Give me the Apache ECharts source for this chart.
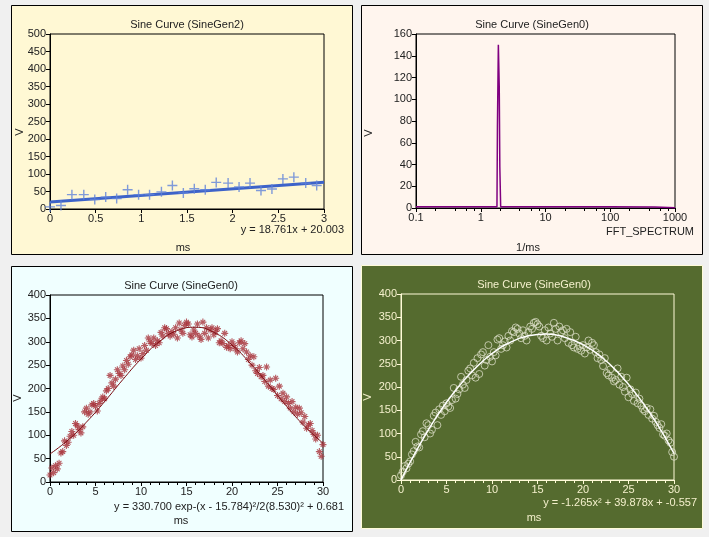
<!DOCTYPE html>
<html><head><meta charset="utf-8">
<script src="https://cdn.jsdelivr.net/npm/echarts@6/dist/echarts.min.js"></script>
<style>html,body{margin:0;padding:0;background:#f0f0f0}#c{width:709px;height:537px}</style>
</head><body><div id="c"></div>
<script>
// ---- Panel 1: linear fit (SineGen2) ----
const linX = [0,0.12,0.24,0.37,0.49,0.61,0.73,0.85,0.97,1.09,1.22,1.34,1.46,1.58,1.70,1.82,1.95,2.07,2.19,2.31,2.43,2.55,2.67,2.80,2.92];
const linY = [6,10,41,41,27,34,30,55,41,41,49,67,46,58,55,76,74,63,74,53,57,86,91,74,67];
const linFitX = [0,3];
const linFitY = [20.0,76.3];
const p1XTicks = [0,0.5,1,1.5,2,2.5,3];
const p1YTicks = [0,50,100,150,200,250,300,350,400,450,500];

// ---- Panel 2: FFT spectrum (SineGen0) ----
const fftX = [0.1,1,1.78,1.81,1.87,1.93,1.97,2.03,10,100,490,500,1000];
const fftY = [1.2,1.2,1.2,75,150,112,38,1.2,1.2,1.1,1.0,0.3,0.3];
const p2XTicks = [0.1,1,10,100,1000];
const p2XMinor = [0.2,0.4,0.6,0.8,2,4,6,8,20,40,60,80,200,400,600,800];
const p2YTicks = [0,20,40,60,80,100,120,140,160];

// ---- Panel 3: gaussian fit (SineGen0), samples every 0.2 ms ----
const sampleStep = 0.2;
const gaussY = [
 15,30,20,35,28,40,62,65,88,78,
 85,98,108,100,125,120,112,105,118,150,
 158,145,150,165,168,162,152,168,175,182,
 178,195,200,228,212,205,220,240,232,228,
 248,240,260,252,268,272,282,262,270,285,
 265,275,292,282,308,300,296,308,292,302,
 298,320,312,330,328,318,312,322,316,330,
 308,340,325,318,335,342,338,315,310,325,
 318,338,312,305,342,318,330,308,325,330,
 315,322,328,298,302,296,318,288,292,285,
 300,292,285,278,298,302,285,296,278,262,
 270,250,268,238,232,245,225,228,215,246,
 205,218,200,198,222,185,205,178,190,172,
 182,168,158,172,150,160,145,158,148,128,
 140,115,122,125,110,102,92,100,65,55,
 80];
const fitX = [0,2,4,6,8,10,12,14,16,18,20,22,24,26,28,30];
const gaussFitY = [60,90,128,172,219,263,300,324,331,320,293,254,209,162,119,83];

// ---- Panel 4: quadratic fit (SineGen0) ----
const quadY = [
 10,18,30,25,35,40,55,62,82,72,
 70,98,105,92,122,118,100,108,138,145,
 118,152,140,160,148,165,158,155,172,198,
 175,185,195,222,205,198,215,235,240,225,
 252,220,262,228,270,275,246,258,290,265,
 255,275,268,302,305,282,290,298,285,310,
 300,320,318,328,325,315,305,322,310,300,
 318,330,325,338,340,335,330,310,305,322,
 300,328,315,308,338,325,300,330,318,322,
 305,325,295,318,290,285,308,282,288,278,
 290,272,285,300,280,295,290,275,262,270,
 258,245,262,230,225,238,220,212,215,240,
 205,222,200,190,220,178,195,185,170,188,
 165,175,160,152,148,155,140,152,132,138,
 125,118,112,120,98,95,100,85,80,60,
 50];
const quadFitY = [0,74,139,193,237,272,296,310,314,307,291,265,228,181,125,57];
const p34XTicks = [0,5,10,15,20,25,30];
const p34YTicks = [0,50,100,150,200,250,300,350,400];

// ---------------------------------------------------------
const FONT = '"Liberation Sans", Arial, sans-serif';
const DARK = '#222';
const CREAM = '#f4f0cc';
const pair = (xs, ys) => xs.map((x, i) => [x, ys[i]]);
const stepped = ys => ys.map((y, i) => [+(i * sampleStep).toFixed(2), y]);

function valAxis(gi, ticks, col, txt, extra) {
  return Object.assign({
    type: 'value', gridIndex: gi, min: ticks[0], max: ticks[ticks.length - 1],
    interval: ticks[1] - ticks[0],
    axisLine: { show: true, onZero: false, lineStyle: { color: col, width: 1 } },
    axisTick: { show: true, length: 4, lineStyle: { color: col } },
    axisLabel: { color: txt, fontSize: 11, fontFamily: FONT, margin: 4 },
    splitLine: { show: false }
  }, extra || {});
}
function minorAxis(gi, ticks, col, extra) {
  return Object.assign({
    type: 'value', gridIndex: gi, min: ticks[0], max: ticks[ticks.length - 1], interval: 1,
    axisLine: { show: false }, axisLabel: { show: false }, splitLine: { show: false },
    axisTick: { show: true, inside: true, length: 3, lineStyle: { color: col } }
  }, extra || {});
}

const plusSym = 'path://M4.3,0h1.4v10h-1.4z M0,4.3h10v1.4h-10z';
const starSym = 'path://M4.2,0h1.6v10h-1.6z M0,4.2h10v1.6h-10z M1.1,2.2L2.2,1.1L8.9,7.8L7.8,8.9z M7.8,1.1L8.9,2.2L2.2,8.9L1.1,7.8z';

function txt(x, y, s, opts) {
  opts = opts || {};
  return {
    type: 'text', x: x, y: y, z: 100, rotation: opts.rot || 0, silent: true,
    style: { text: s, fill: opts.color || DARK, font: (opts.size || 11) + 'px ' + FONT,
      textAlign: opts.align || 'center', textVerticalAlign: 'middle' }
  };
}
function panel(x, y, w, h, fill, stroke) {
  return { type: 'rect', z: -100, silent: true,
    shape: { x: x + 0.5, y: y + 0.5, width: w, height: h },
    style: { fill: fill, stroke: stroke, lineWidth: 1 } };
}

const chart = echarts.init(document.getElementById('c'), null, { renderer: 'canvas' });
chart.setOption({
  animation: false,
  backgroundColor: '#f0f0f0',
  graphic: [
    panel(11, 5, 341, 249, '#fff8d4', '#000'),
    panel(361, 5, 341, 249, '#fff5ee', '#000'),
    panel(11, 266, 341, 265, '#f0ffff', '#000'),
    panel(361, 265, 341, 263, '#556b2f', '#fffbd8'),
    txt(187, 25, 'Sine Curve (SineGen2)'),
    txt(532, 25, 'Sine Curve (SineGen0)'),
    txt(181, 286, 'Sine Curve (SineGen0)'),
    txt(534, 285, 'Sine Curve (SineGen0)', { color: CREAM }),
    txt(20, 132, 'V', { rot: Math.PI / 2 }),
    txt(369, 133, 'V', { rot: Math.PI / 2 }),
    txt(18, 398, 'V', { rot: Math.PI / 2 }),
    txt(368, 397, 'V', { rot: Math.PI / 2, color: CREAM }),
    txt(344, 230, 'y = 18.761x + 20.003', { align: 'right' }),
    txt(183, 248, 'ms'),
    txt(694, 232, 'FFT_SPECTRUM', { align: 'right' }),
    txt(528, 248, '1/ms'),
    txt(344, 507, 'y = 330.700 exp-(x - 15.784)\u00b2/2(8.530)\u00b2 + 0.681', { align: 'right' }),
    txt(181, 521, 'ms'),
    txt(697, 503, 'y = -1.265x\u00b2 + 39.878x + -0.557', { align: 'right', color: CREAM }),
    txt(534, 518, 'ms', { color: CREAM })
  ],
  grid: [
    { left: 50, top: 34, width: 274, height: 175, show: true, backgroundColor: '#fff8d4', borderColor: '#000', borderWidth: 1 },
    { left: 416, top: 34, width: 259, height: 174, show: true, backgroundColor: '#fff5ee', borderColor: '#000', borderWidth: 1 },
    { left: 50, top: 295, width: 273, height: 187, show: true, backgroundColor: '#f0ffff', borderColor: '#000', borderWidth: 1 },
    { left: 401, top: 294, width: 273, height: 186, show: true, backgroundColor: '#556b2f', borderColor: '#fffbd8', borderWidth: 1 }
  ],
  xAxis: [
    valAxis(0, p1XTicks, '#000', DARK),
    {
      type: 'log', logBase: 10, gridIndex: 1, min: p2XTicks[0], max: p2XTicks[p2XTicks.length - 1],
      axisLine: { show: true, onZero: false, lineStyle: { color: '#000' } },
      axisTick: { show: true, length: 4, lineStyle: { color: '#000' } },
      axisLabel: { color: DARK, fontSize: 11, fontFamily: FONT, margin: 4,
        formatter: v => String(+(+v).toPrecision(6)) },
      splitLine: { show: false }
    },
    valAxis(2, p34XTicks, '#000', DARK),
    valAxis(3, p34XTicks, '#fffbd8', CREAM),
    {
      type: 'log', logBase: 10, gridIndex: 1, min: p2XTicks[0], max: p2XTicks[p2XTicks.length - 1],
      axisLine: { show: false }, axisLabel: { show: false }, splitLine: { show: false },
      axisTick: { show: true, inside: true, length: 3, customValues: p2XMinor, lineStyle: { color: '#000' } }
    },
    minorAxis(2, p34XTicks, '#000'),
    minorAxis(3, p34XTicks, '#fffbd8')
  ],
  yAxis: [
    valAxis(0, p1YTicks, '#000', DARK),
    valAxis(1, p2YTicks, '#000', DARK),
    valAxis(2, p34YTicks, '#000', DARK),
    valAxis(3, p34YTicks, '#fffbd8', CREAM)
  ],
  series: [
    { type: 'line', xAxisIndex: 0, yAxisIndex: 0, data: pair(linFitX, linFitY), showSymbol: false,
      lineStyle: { color: '#3d63c9', width: 3 }, z: 3 },
    { type: 'scatter', xAxisIndex: 0, yAxisIndex: 0, data: pair(linX, linY), symbol: plusSym, symbolSize: 10,
      itemStyle: { color: '#5f82d9' }, z: 4 },
    { type: 'line', xAxisIndex: 1, yAxisIndex: 1, data: pair(fftX, fftY), showSymbol: false,
      lineStyle: { color: '#800080', width: 1.5 } },
    { type: 'scatter', xAxisIndex: 2, yAxisIndex: 2, data: stepped(gaussY), symbol: starSym, symbolSize: 7,
      itemStyle: { color: '#a8323a' } },
    { type: 'line', xAxisIndex: 2, yAxisIndex: 2, data: pair(fitX, gaussFitY), showSymbol: false, smooth: true,
      lineStyle: { color: '#7a0a10', width: 1 }, z: 5 },
    { type: 'scatter', xAxisIndex: 3, yAxisIndex: 3, data: stepped(quadY), symbol: 'circle', symbolSize: 7,
      itemStyle: { color: 'rgba(0,0,0,0)', borderColor: '#d9dcc4', borderWidth: 1 } },
    { type: 'line', xAxisIndex: 3, yAxisIndex: 3, data: pair(fitX, quadFitY), showSymbol: false, smooth: true,
      lineStyle: { color: '#ffffff', width: 1.5 }, z: 5 }
  ]
});
</script></body></html>
